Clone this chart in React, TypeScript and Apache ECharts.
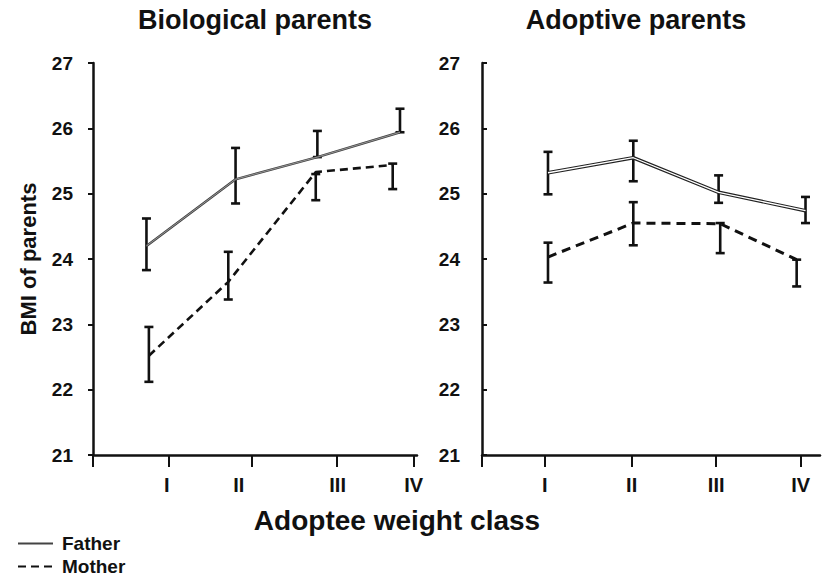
import React, { useEffect, useRef } from 'react';
import * as echarts from 'echarts';

const FONT = '"Liberation Sans", Arial, Helvetica, sans-serif';

const classNames = ['I', 'II', 'III', 'IV'];
const yMin = 21;
const yMax = 27;

// Biological parents (x positions in axis units, axis runs 0..4)
const bioTickPos = [0, 0.93, 1.96, 3.01, 3.96];
const bioLabelPos = [0.91, 1.8, 3.02, 3.96];
const bioFatherX = [0.66, 1.76, 2.77, 3.79];
const bioFather = [24.2, 25.22, 25.56, 25.94];
const bioFatherLo = [23.83, 24.85, 25.56, 25.94];
const bioFatherHi = [24.62, 25.7, 25.96, 26.3];
const bioMotherX = [0.69, 1.67, 2.75, 3.7];
const bioMother = [22.52, 23.65, 25.33, 25.44];
const bioMotherLo = [22.12, 23.38, 24.9, 25.07];
const bioMotherHi = [22.96, 24.11, 25.3, 25.46];

// Adoptive parents (axis runs 0..4.2)
const adoTickPos = [0, 0.78, 1.86, 2.91, 3.96];
const adoLabelPos = [0.78, 1.86, 2.91, 3.96];
const adoFatherX = [0.82, 1.88, 2.94, 4.02];
const adoFather = [25.32, 25.55, 25.02, 24.74];
const adoFatherLo = [24.99, 25.19, 24.86, 24.55];
const adoFatherHi = [25.64, 25.81, 25.28, 24.95];
const adoMotherX = [0.82, 1.88, 2.96, 3.91];
const adoMother = [24.03, 24.55, 24.54, 23.99];
const adoMotherLo = [23.64, 24.21, 24.09, 23.58];
const adoMotherHi = [24.25, 24.87, 24.55, 23.99];

const pts = (xs: number[], ys: number[]) => xs.map((x, i) => [x, ys[i]]);
const bars = (xs: number[], lo: number[], hi: number[]) => xs.map((x, i) => [x, lo[i], hi[i]]);

const labelFormatter = (positions: number[]) => (v: number) => {
  const i = positions.findIndex((p) => Math.abs(p - v) < 1e-6);
  return i >= 0 ? classNames[i] : '';
};

const errorBarRender = (params: any, api: any) => {
  const x = api.value(0);
  const lo = api.coord([x, api.value(1)]);
  const hi = api.coord([x, api.value(2)]);
  const cap = 4.5;
  const style = { stroke: '#111', lineWidth: 2.6 };
  return {
    type: 'group',
    children: [
      { type: 'line', shape: { x1: lo[0], y1: lo[1], x2: hi[0], y2: hi[1] }, style },
      { type: 'line', shape: { x1: lo[0] - cap, y1: lo[1], x2: lo[0] + cap, y2: lo[1] }, style },
      { type: 'line', shape: { x1: hi[0] - cap, y1: hi[1], x2: hi[0] + cap, y2: hi[1] }, style },
    ],
  };
};

const makeXAxis = (gridIndex: number, max: number, ticks: number[], labels: number[]) => ({
  gridIndex,
  type: 'value',
  min: 0,
  max,
  splitLine: { show: false },
  axisLine: { show: true, lineStyle: { color: '#111', width: 2.5 } },
  axisTick: { show: true, customValues: ticks, length: 12, lineStyle: { color: '#111', width: 2 } },
  axisLabel: {
    customValues: labels,
    formatter: labelFormatter(labels),
    margin: 20,
    fontSize: 20,
    fontWeight: 'bold',
    color: '#111',
    fontFamily: FONT,
  },
});

const makeYAxis = (gridIndex: number, inside: boolean, withName: boolean) => ({
  gridIndex,
  type: 'value',
  min: yMin,
  max: yMax,
  interval: 1,
  splitLine: { show: false },
  axisLine: { show: true, lineStyle: { color: '#111', width: 2.5 } },
  axisTick: { show: true, inside, length: 5, lineStyle: { color: '#111', width: 2 } },
  axisLabel: {
    margin: inside ? 22 : 20,
    fontSize: 19,
    fontWeight: 'bold',
    color: '#111',
    fontFamily: FONT,
  },
  name: withName ? 'BMI of parents' : '',
  nameLocation: 'middle',
  nameGap: 54,
  nameTextStyle: { fontSize: 22, fontWeight: 'bold', color: '#111', fontFamily: FONT },
});

export default function App() {
  const ref = useRef<HTMLDivElement>(null);
  useEffect(() => {
    document.body.style.margin = '0';
    if (!ref.current) return;
    const chart = echarts.init(ref.current, undefined, { renderer: 'svg' });
    const dashed = { color: '#111', width: 2.6, type: [8, 5] as any };
    const option: any = {
      animation: false,
      backgroundColor: '#fff',
      graphic: [
        { type: 'text', x: 255, y: 6, style: { text: 'Biological parents', font: `bold 27px ${FONT}`, fill: '#111', align: 'center', verticalAlign: 'top' } },
        { type: 'text', x: 636, y: 6, style: { text: 'Adoptive parents', font: `bold 27px ${FONT}`, fill: '#111', align: 'center', verticalAlign: 'top' } },
        { type: 'text', x: 397, y: 506, style: { text: 'Adoptee weight class', font: `bold 28px ${FONT}`, fill: '#111', align: 'center', verticalAlign: 'top' } },
      ],
      legend: {
        orient: 'vertical',
        left: 17,
        top: 534,
        padding: 0,
        itemWidth: 35,
        itemHeight: 12,
        itemGap: 4,
        data: ['Father', 'Mother'],
        itemStyle: { color: 'rgba(0,0,0,0)', borderWidth: 0, opacity: 0 },
        textStyle: { fontSize: 19, fontWeight: 'bold', color: '#111', fontFamily: FONT, padding: [0, 0, 0, 4] },
      },
      grid: [
        { left: 93, right: 405, top: 63, bottom: 127 },
        { left: 482, right: 2, top: 63, bottom: 127 },
      ],
      xAxis: [makeXAxis(0, 4, bioTickPos, bioLabelPos), makeXAxis(1, 4.2, adoTickPos, adoLabelPos)],
      yAxis: [makeYAxis(0, false, true), makeYAxis(1, true, false)],
      series: [
        { name: 'Father', type: 'line', xAxisIndex: 0, yAxisIndex: 0, data: pts(bioFatherX, bioFather), symbol: 'none', lineStyle: { color: '#444', width: 2.4 }, itemStyle: { color: '#444' } },
        { name: 'Father-inner', type: 'line', xAxisIndex: 0, yAxisIndex: 0, data: pts(bioFatherX, bioFather), symbol: 'none', lineStyle: { color: '#aaa', width: 0.8 } },
        { name: 'Mother', type: 'line', xAxisIndex: 0, yAxisIndex: 0, data: pts(bioMotherX, bioMother), symbol: 'none', lineStyle: dashed, itemStyle: { color: '#111' } },
        { name: 'Father-err', type: 'custom', xAxisIndex: 0, yAxisIndex: 0, data: bars(bioFatherX, bioFatherLo, bioFatherHi), renderItem: errorBarRender, encode: { x: 0, y: [1, 2] } },
        { name: 'Mother-err', type: 'custom', xAxisIndex: 0, yAxisIndex: 0, data: bars(bioMotherX, bioMotherLo, bioMotherHi), renderItem: errorBarRender, encode: { x: 0, y: [1, 2] } },
        { name: 'Father', type: 'line', xAxisIndex: 1, yAxisIndex: 1, data: pts(adoFatherX, adoFather), symbol: 'none', lineStyle: { color: '#222', width: 3.6 }, itemStyle: { color: '#222' } },
        { name: 'Father-inner2', type: 'line', xAxisIndex: 1, yAxisIndex: 1, data: pts(adoFatherX, adoFather), symbol: 'none', lineStyle: { color: '#fff', width: 1.3 } },
        { name: 'Mother', type: 'line', xAxisIndex: 1, yAxisIndex: 1, data: pts(adoMotherX, adoMother), symbol: 'none', lineStyle: { color: '#111', width: 3, type: [9, 6] }, itemStyle: { color: '#111' } },
        { name: 'Father-err2', type: 'custom', xAxisIndex: 1, yAxisIndex: 1, data: bars(adoFatherX, adoFatherLo, adoFatherHi), renderItem: errorBarRender, encode: { x: 0, y: [1, 2] } },
        { name: 'Mother-err2', type: 'custom', xAxisIndex: 1, yAxisIndex: 1, data: bars(adoMotherX, adoMotherLo, adoMotherHi), renderItem: errorBarRender, encode: { x: 0, y: [1, 2] } },
      ],
    };
    chart.setOption(option);
    return () => chart.dispose();
  }, []);
  return <div ref={ref} style={{ width: 822, height: 582 }} />;
}
